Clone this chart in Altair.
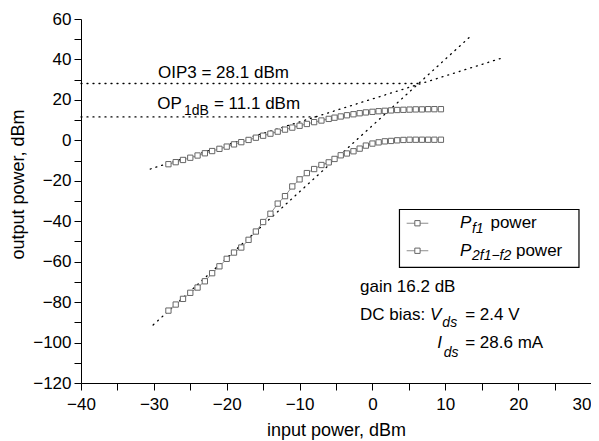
import altair as alt
import pandas as pd

# ---------------- data ----------------
pin = [-28, -27, -26, -25, -24, -23, -22, -21, -20, -19, -18, -17, -16, -15,
       -14, -13, -12, -11, -10, -9, -8, -7, -6, -5.2, -4.35, -3.5, -2.6,
       -1.75, -0.9, 0.0, 0.85, 1.7, 2.55, 3.4, 4.25, 5.1, 5.95, 6.8, 7.65,
       8.5, 9.4]
p_f1 = [-11.8, -10.8, -9.7, -8.6, -7.5, -6.4, -5.3, -4.2, -3.1, -2.0, -0.9,
        0.2, 1.3, 2.3, 3.3, 4.3, 5.3, 6.3, 7.2, 8.1, 9.0, 9.8, 10.6, 11.2,
        11.8, 12.4, 12.9, 13.4, 13.8, 14.1, 14.4, 14.6, 14.8, 15.0, 15.1,
        15.2, 15.3, 15.3, 15.4, 15.4, 15.4]
p_im3 = [-84.2, -81.2, -78.4, -75.4, -72.8, -69.7, -65.7, -62.3, -58.6,
         -55.5, -53.0, -49.2, -45.1, -40.4, -36.3, -31.3, -27.6, -22.8,
         -19.3, -16.2, -14.2, -12.2, -10.9, -9.2, -7.4, -6.5, -5.4, -4.1,
         -2.6, -1.6, -1.0, -0.5, -0.3, 0.0, 0.2, 0.3, 0.3, 0.3, 0.3, 0.3, 0.3]

# dotted extrapolation / marker lines (end points)
ext_group = ["oip3", "oip3", "op1db", "op1db", "fund", "fund", "im3", "im3"]
ext_x = [-40, 6.29, -40, -7.7, -30.5, 17.96, -30.1, 13.25]
ext_y = [28.1, 28.1, 11.6, 11.6, -14.2, 40.9, -91.3, 50.75]

# texts
txt_normal = ["OIP3 = 28.1 dBm", "OP", "= 11.1 dBm", "power", "power",
              "gain 16.2 dB", "DC bias:", "= 2.4 V", "= 28.6 mA"]
txt_normal_x = [-29.43, -29.53, -21.75, 16.2, 19.7, -1.71, -1.71, 12.73, 12.73]
txt_normal_y = [30.8, 15.35, 15.35, -43.5, -57.05, -74.85, -88.85, -88.85, -102.8]

txt_italic = ["P", "P", "V", "I"]
txt_italic_x = [12.02, 12.02, 7.9, 8.9]
txt_italic_y = [-43.5, -57.05, -88.85, -102.8]

txt_sub_italic = ["f1", "2f1\u2212f2", "ds", "ds"]
txt_sub_italic_x = [13.66, 13.66, 9.6, 9.8]
txt_sub_italic_y = [-46.0, -59.2, -92.5, -107.0]

txt_sub = ["1dB"]
txt_sub_x = [-25.86]
txt_sub_y = [12.5]

# legend pieces (data coordinates)
leg_row_y = [-41.0, -54.6]
leg_line_x = [4.7, 7.67]
leg_sym_x = 6.18
leg_box = dict(x=3.71, x2=28.35, y=-34.2, y2=-62.8)

# ---------------- tables ----------------
series = pd.DataFrame({
    "x": pin * 2,
    "y": p_f1 + p_im3,
    "s": ["f1"] * len(pin) + ["im3"] * len(pin),
})
ext = pd.DataFrame({"x": ext_x, "y": ext_y, "g": ext_group})
tn = pd.DataFrame({"x": txt_normal_x, "y": txt_normal_y, "t": txt_normal})
ti = pd.DataFrame({"x": txt_italic_x, "y": txt_italic_y, "t": txt_italic})
tsi = pd.DataFrame({"x": txt_sub_italic_x, "y": txt_sub_italic_y, "t": txt_sub_italic})
ts = pd.DataFrame({"x": txt_sub_x, "y": txt_sub_y, "t": txt_sub})
leg_lines = pd.DataFrame({
    "x": leg_line_x * 2,
    "y": [leg_row_y[0]] * 2 + [leg_row_y[1]] * 2,
    "r": ["a", "a", "b", "b"],
})
leg_syms = pd.DataFrame({"x": [leg_sym_x] * 2, "y": leg_row_y})
box = pd.DataFrame([leg_box])

FONT = "Liberation Sans"

xs = alt.Scale(domain=[-40, 30], nice=False, zero=False)
ys = alt.Scale(domain=[-120, 60], nice=False, zero=False)
xaxis = alt.Axis(
    values=list(range(-40, 31, 5)),
    labelExpr="datum.value % 10 === 0 ? datum.label : ''",
    labelAlign={"condition": {"test": "datum.value === 30", "value": "right"},
                "value": "center"},
    format="d", grid=False, tickSize=7, labelPadding=6, titlePadding=9,
    labelFlush=False, labelOverlap=False,
)
yaxis = alt.Axis(
    values=list(range(-120, 61, 10)),
    labelExpr="datum.value % 20 === 0 ? datum.label : ''",
    format="d", grid=False, tickSize=7, labelPadding=3, titlePadding=5,
    labelFlush=False, labelOverlap=False, titleY=165,
)
X = alt.X("x:Q", scale=xs, axis=xaxis, title="input power, dBm")
Y = alt.Y("y:Q", scale=ys, axis=yaxis, title="output power, dBm")

base = alt.Chart(series)

dotted = alt.Chart(ext).mark_line(
    color="black", strokeWidth=1.3, strokeDash=[1, 5], strokeCap="round"
).encode(x=X, y=Y, detail="g:N")

lines = base.mark_line(color="#808080", strokeWidth=0.9).encode(
    x=X, y=Y, detail="s:N")
squares = base.mark_square(
    fill="white", stroke="#666666", strokeWidth=1, size=28, opacity=1
).encode(x=X, y=Y)

legbox = alt.Chart(box).mark_rect(
    fill="white", stroke="black", strokeWidth=1.2
).encode(x=X, x2="x2:Q", y=Y, y2="y2:Q")
leglines = alt.Chart(leg_lines).mark_line(
    color="#808080", strokeWidth=0.9).encode(x=X, y=Y, detail="r:N")
legsyms = alt.Chart(leg_syms).mark_square(
    fill="white", stroke="#666666", strokeWidth=1, size=28, opacity=1
).encode(x=X, y=Y)


def text_layer(df, size, style):
    return alt.Chart(df).mark_text(
        align="left", baseline="alphabetic", font=FONT, fontSize=size,
        fontStyle=style, color="black"
    ).encode(x=X, y=Y, text="t:N")


chart = alt.layer(
    dotted, lines, squares, legbox, leglines, legsyms,
    text_layer(tn, 17, "normal"),
    text_layer(ti, 17, "italic"),
    text_layer(tsi, 14, "italic"),
    text_layer(ts, 14, "normal"),
).properties(
    width=510, height=364,
    autosize=alt.AutoSizeParams(type="none"),
    padding={"left": 73, "top": 11, "right": 0, "bottom": 58},
).configure_view(stroke=None).configure_axis(
    domainColor="black", tickColor="black", labelColor="black",
    titleColor="black", labelFont=FONT, titleFont=FONT,
    labelFontSize=17, titleFontSize=18, titleFontWeight="normal",
    domainWidth=1, tickWidth=1,
)

chart.save("out.html", embed_options={"renderer": "svg", "actions": False})
